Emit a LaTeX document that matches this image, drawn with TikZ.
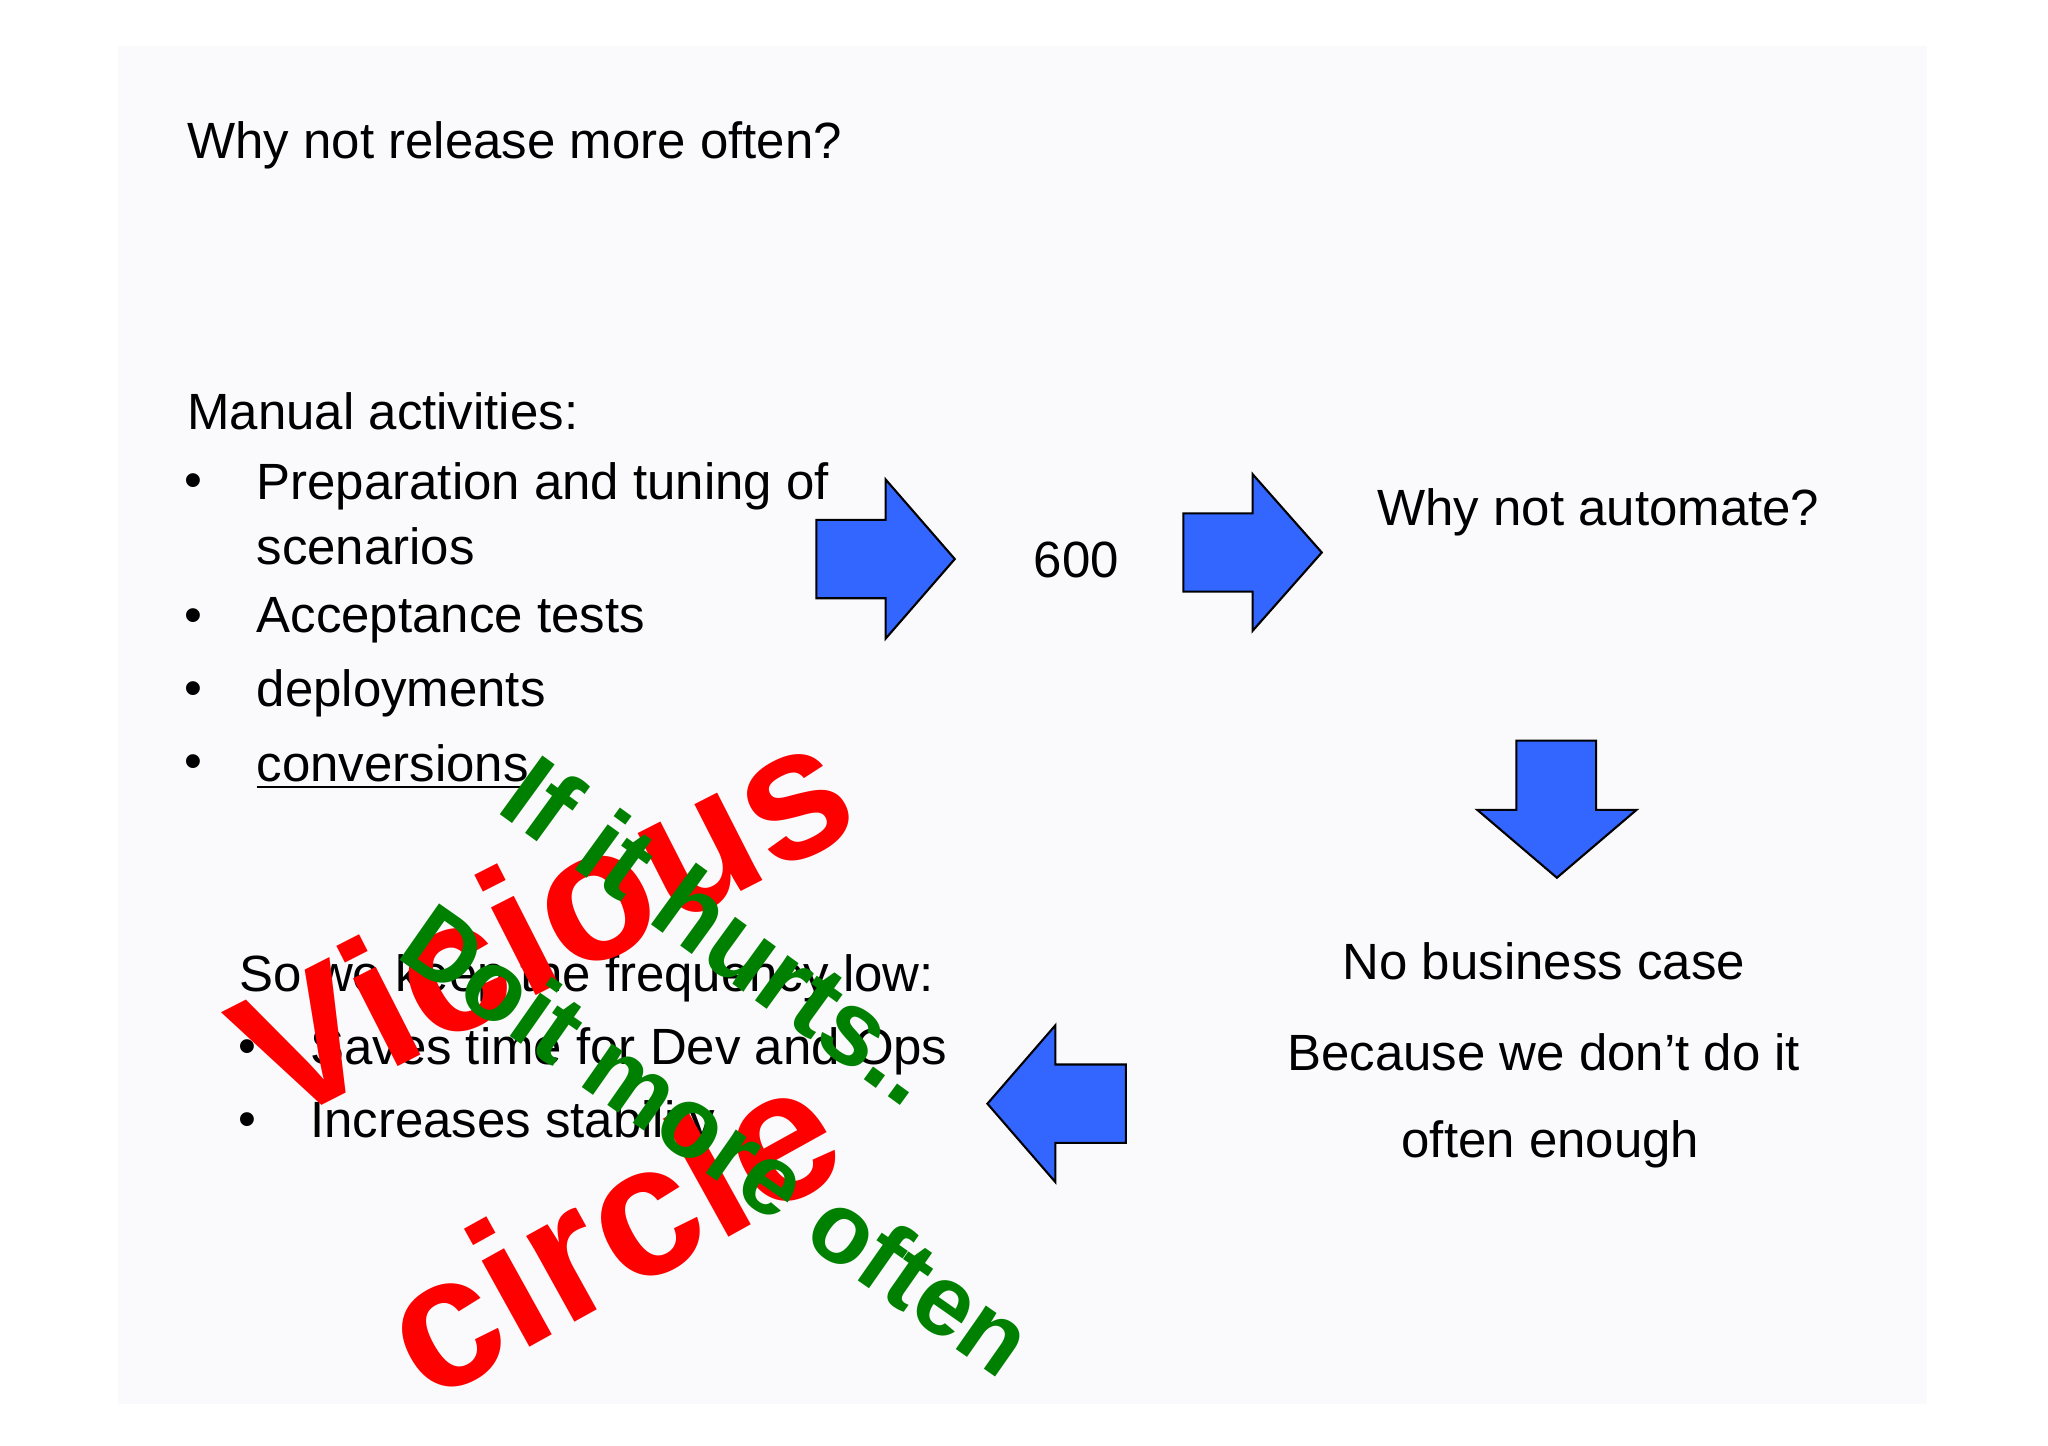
\documentclass[tikz,border=0pt]{standalone}
\usepackage{fontspec}
\setmainfont{Liberation Sans}
\definecolor{slidebg}{HTML}{FAFAFC}
\definecolor{arrblue}{HTML}{3366FF}
\definecolor{vgreen}{HTML}{008000}
\begin{document}
\begin{tikzpicture}[x=0.013061cm,y=-0.013061cm,
  txt/.style={anchor=west,inner sep=0pt,font=\fontsize{14.5}{17}\selectfont},
  ctxt/.style={inner sep=0pt,font=\fontsize{14.5}{17}\selectfont},
  blk/.style={fill=arrblue,draw=black,line width=0.6pt,line join=miter},
  red/.style={text=red,inner sep=0pt,font=\fontsize{53}{56}\selectfont\bfseries},
  grn/.style={text=vgreen,inner sep=0pt,font=\fontsize{30}{32}\selectfont\bfseries}]
\useasboundingbox (0,0) rectangle (1568,1107);
\fill[white] (0,0) rectangle (1568,1107);
\fill[slidebg] (90,35) rectangle (1475,1075);
\node[txt] (t1) at (143,111) {Why not release more often?};
\node[txt] (t2) at (143,315) {Manual activities:};
\foreach \y/\s in {372/{Preparation and tuning of},418/{scenarios},475/{Acceptance tests},531/{deployments}}
  \node[txt] at (196,\y) {\s};
\node[txt] (conv) at (196,587) {\underline{conversions}};
\foreach \y in {372,475,531,587} \node[txt] at (141,\y) {•};
\node[txt] (so) at (183,749) {So we keep the frequency low:};
\node[txt] at (237,805) {Saves time for Dev and Ops};
\node[txt] at (237,861) {Increases stability};
\foreach \y in {805,861} \node[txt] at (182,\y) {•};
\node[ctxt] (n600) at (824,429) {600};
\node[txt] (auto) at (1054,392) {Why not automate?};
\node[ctxt] (nb1) at (1182,736) {No business case};
\node[ctxt] (nb2) at (1182,806) {Because we don’t do it};
\node[ctxt] (nb3) at (1187,876) {often enough};
\draw[blk] (625,398) -- (678,398) -- (678,367) -- (731,428) -- (678,489) -- (678,458) -- (625,458) -- cycle;
\draw[blk] (906,393) -- (959,393) -- (959,363) -- (1012,423) -- (959,483) -- (959,453) -- (906,453) -- cycle;
\draw[blk] (1161,567) -- (1222,567) -- (1222,620) -- (1253,620) -- (1192,672) -- (1131,620) -- (1161,620) -- cycle;
\draw[blk] (862,815) -- (808,815) -- (808,785) -- (756,845) -- (808,905) -- (808,875) -- (862,875) -- cycle;
\node[red,rotate=27] (vic) at (415,703) {Vicious};
\node[red,rotate=29] (cir) at (466,940) {circle};
\node[grn,rotate=-36] (hurt) at (553,712) {If it hurts..};
\node[grn,rotate=-35] (doit) at (550,872) {\fontsize{28.5}{30}\selectfont Doit more often};
\end{tikzpicture}
\end{document}
